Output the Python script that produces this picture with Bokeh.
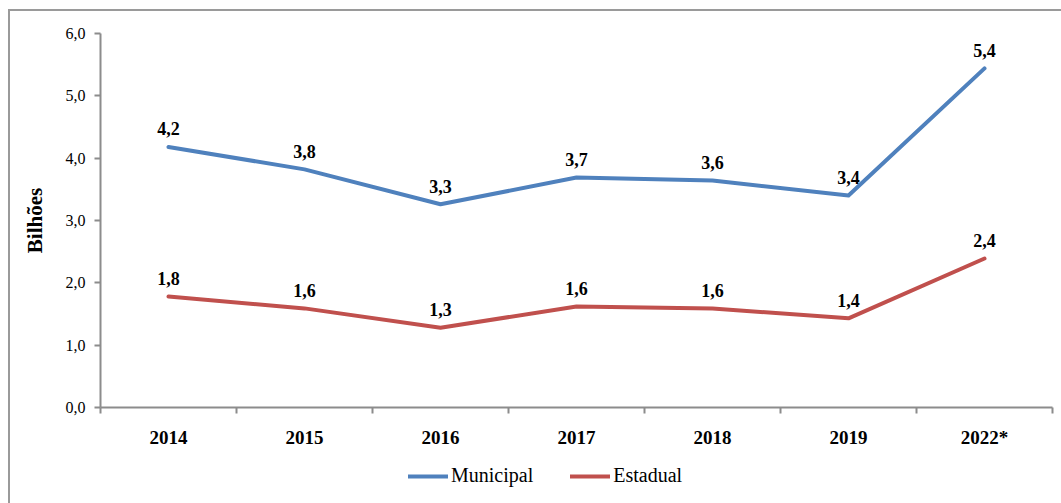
from bokeh.plotting import figure
from bokeh.layouts import column
from bokeh.models import Range1d, FixedTicker, Legend, LegendItem, ColumnDataSource
from bokeh.core.properties import value
from bokeh.embed import file_html
from bokeh.resources import INLINE

years = ["2014", "2015", "2016", "2017", "2018", "2019", "2022*"]
municipal = [4.18, 3.82, 3.26, 3.69, 3.64, 3.40, 5.44]
estadual = [1.78, 1.59, 1.28, 1.62, 1.59, 1.43, 2.39]
y_ticks = [0, 1, 2, 3, 4, 5, 6]
series_names = ["Municipal", "Estadual"]

FONT = "Liberation Serif"
BLUE = "#4F81BD"
RED = "#C0504D"
AXIS = "#8c8c8c"

xs = [i + 0.5 for i in range(len(years))]

p = figure(width=1051, height=445, output_backend="svg", toolbar_location=None,
           x_range=Range1d(0, len(years)), y_range=Range1d(0, 6))
p.min_border_left = 90
p.min_border_top = 22
p.min_border_right = 9
p.min_border_bottom = 49
p.outline_line_color = None
p.grid.grid_line_color = None
p.background_fill_color = "white"
p.border_fill_color = "white"

# x axis
p.xaxis.ticker = FixedTicker(ticks=xs, minor_ticks=list(range(len(years) + 1)))
p.xaxis.major_label_overrides = {x: y for x, y in zip(xs, years)}
p.xaxis.major_tick_out = 0
p.xaxis.major_tick_in = 0
p.xaxis.minor_tick_out = 6
p.xaxis.minor_tick_in = 0
p.xaxis.minor_tick_line_color = AXIS
p.xaxis.axis_line_color = AXIS
p.xaxis.axis_line_width = 2
p.xaxis.minor_tick_line_width = 2
p.xaxis.major_label_text_font = FONT
p.xaxis.major_label_text_font_style = "bold"
p.xaxis.major_label_text_font_size = "19px"
p.xaxis.major_label_text_color = "black"
p.xaxis.major_label_standoff = 13

# y axis
p.yaxis.ticker = FixedTicker(ticks=y_ticks)
p.yaxis.major_label_overrides = {t: f"{t:.1f}".replace(".", ",") for t in y_ticks}
p.yaxis.major_tick_out = 6
p.yaxis.major_tick_in = 0
p.yaxis.minor_tick_line_color = None
p.yaxis.axis_line_color = AXIS
p.yaxis.axis_line_width = 2
p.yaxis.major_tick_line_color = AXIS
p.yaxis.major_tick_line_width = 2
p.yaxis.major_label_text_font = FONT
p.yaxis.major_label_text_font_size = "16px"
p.yaxis.major_label_text_color = "black"
p.yaxis.major_label_standoff = 9
p.yaxis.axis_label = "Bilhões"
p.yaxis.axis_label_text_font = FONT
p.yaxis.axis_label_text_font_style = "bold"
p.yaxis.axis_label_text_font_size = "21px"
p.yaxis.axis_label_text_color = "black"
p.yaxis.axis_label_standoff = 16

src = ColumnDataSource(dict(
    x=xs, m=municipal, e=estadual,
    ml=[f"{v:.1f}".replace(".", ",") for v in municipal],
    el=[f"{v:.1f}".replace(".", ",") for v in estadual],
))

p.line("x", "m", source=src, line_color=BLUE, line_width=4, line_join="round", line_cap="round")
p.line("x", "e", source=src, line_color=RED, line_width=4, line_join="round", line_cap="round")

for col, lab in (("m", "ml"), ("e", "el")):
    p.text("x", col, text=lab, source=src, text_align="center", text_baseline="alphabetic",
           y_offset=-18, text_font=value(FONT), text_font_style="bold",
           text_font_size="18px", text_color="black")

# legend strip (same series, drawn out of its visible range so only the legend shows)
lg = figure(width=1051, height=47, output_backend="svg", toolbar_location=None,
            x_range=Range1d(0, 1), y_range=Range1d(100, 101),
            x_axis_location=None, y_axis_location=None)
lg.grid.grid_line_color = None
lg.outline_line_color = None
lg.min_border_left = 0
lg.min_border_right = 0
lg.min_border_top = 0
lg.min_border_bottom = 0
lg.border_fill_color = "white"
l1 = lg.line("x", "m", source=src, line_color=BLUE, line_width=4, line_cap="round")
l2 = lg.line("x", "e", source=src, line_color=RED, line_width=4, line_cap="round")

legend = Legend(items=[LegendItem(label=series_names[0], renderers=[l1]),
                       LegendItem(label=series_names[1], renderers=[l2])],
                orientation="horizontal", location=(308, 16))
legend.label_text_font = FONT
legend.label_text_font_size = "20px"
legend.label_text_color = "black"
legend.border_line_color = None
legend.background_fill_alpha = 0
legend.glyph_width = 40
legend.label_standoff = 3
legend.spacing = 37
legend.margin = 0
legend.padding = 4
lg.add_layout(legend, "center")

layout = column(p, lg, spacing=0)
layout.styles = {"margin-left": "8px", "margin-top": "9px",
                 "border-left": "2px solid #9a9a9a", "border-top": "2px solid #9a9a9a"}

open("out.html", "w").write(file_html(layout, INLINE))
